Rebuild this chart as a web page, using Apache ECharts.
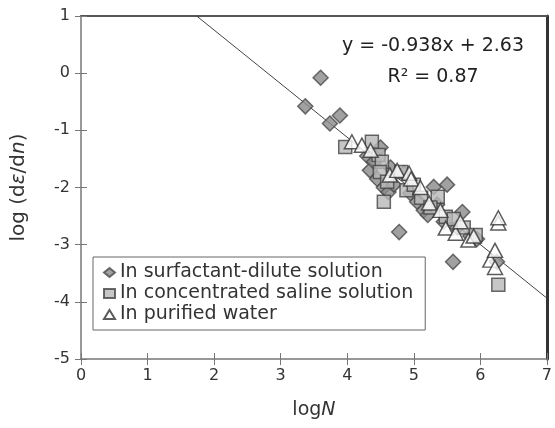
<!DOCTYPE html>
<html><head><meta charset="utf-8">
<script src="https://cdn.jsdelivr.net/npm/echarts@6/dist/echarts.min.js"></script>
<style>html,body{margin:0;padding:0;background:#fff}#c{width:555px;height:428px}</style>
</head><body><div id="c"></div>
<script>
const xTicks = [0,1,2,3,4,5,6,7];
const yTicks = [-5,-4,-3,-2,-1,0,1];
const surfactant = [[3.37,-0.58],[3.6,-0.08],[3.74,-0.88],[3.89,-0.74],[4.3,-1.45],[4.34,-1.7],[4.4,-1.55],[4.45,-1.85],[4.5,-1.3],[4.55,-2.0],[4.62,-2.08],[4.65,-1.65],[4.7,-1.95],[4.78,-2.78],[4.85,-1.75],[4.95,-2.1],[5.05,-2.25],[5.15,-2.4],[5.21,-2.48],[5.3,-1.99],[5.35,-2.3],[5.5,-1.95],[5.45,-2.6],[5.59,-3.3],[5.65,-2.7],[5.73,-2.43],[5.85,-2.85],[5.95,-2.9],[6.25,-3.3]];
const saline = [[3.97,-1.29],[4.37,-1.2],[4.47,-1.43],[4.52,-1.55],[4.49,-1.73],[4.6,-1.9],[4.81,-1.73],[4.89,-2.05],[5.0,-1.95],[5.11,-2.18],[5.36,-2.16],[5.48,-2.51],[5.6,-2.55],[5.75,-2.7],[5.93,-2.83],[6.27,-3.7],[4.55,-2.25],[5.25,-2.35]];
const purified = [[4.07,-1.2],[4.22,-1.26],[4.35,-1.35],[4.64,-1.78],[4.75,-1.7],[4.93,-1.75],[4.96,-1.85],[5.1,-2.0],[5.23,-2.27],[5.4,-2.4],[5.48,-2.71],[5.63,-2.8],[5.7,-2.6],[5.82,-2.92],[5.9,-2.85],[6.27,-2.62],[6.27,-2.53],[6.15,-3.27],[6.22,-3.4],[6.22,-3.1]];
const seriesNames = ['In surfactant-dilute solution','In concentrated saline solution','In purified water'];
const fitCoef = [-0.938, 2.63];
const fitRange = [(1 - 2.63) / -0.938, 7];
const eqText = ['y = -0.938x + 2.63', 'R² = 0.87'];

const fitLine = fitRange.map(x => [x, fitCoef[0]*x + fitCoef[1]]);
const font = 'DejaVu Sans, sans-serif';
const tc = '#333';
const chart = echarts.init(document.getElementById('c'));
const xc = {type:'value', min:0, max:7, interval:1, splitLine:{show:false}};
const yc = {type:'value', min:-5, max:1, interval:1, splitLine:{show:false}};
const rich = {a:{fontSize:19,fontFamily:font,color:tc}, b:{fontSize:19,fontFamily:font,color:tc,fontStyle:'italic'}};
chart.setOption({
  animation:false,
  grid:{left:81, right:3, top:16, bottom:69},
  xAxis:[
    {...xc, position:'bottom', axisLine:{onZero:false,lineStyle:{color:'#777',width:1.5}}, axisTick:{length:6,lineStyle:{color:'#777'}}, axisLabel:{color:tc,fontSize:16,fontFamily:font,margin:9},
     name:'{a|log}{b|N}', nameLocation:'middle', nameGap:42, nameTextStyle:{rich}},
    {...xc, position:'bottom', axisLine:{show:false,onZero:false}, axisTick:{inside:true,length:6,lineStyle:{color:'#777'}}, axisLabel:{show:false}},
    {...xc, position:'top', axisLine:{onZero:false,lineStyle:{color:'#555',width:2}}, axisTick:{show:false}, axisLabel:{show:false}}
  ],
  yAxis:[
    {...yc, position:'left', axisLine:{show:true,onZero:false,lineStyle:{color:'#777',width:1.5}}, axisTick:{show:true,length:6,lineStyle:{color:'#777'}}, axisLabel:{color:tc,fontSize:16,fontFamily:font,margin:11},
     name:'{a|log (d}{b|ε}{a|/d}{b|n}{a|)}', nameLocation:'middle', nameGap:52, nameRotate:90, nameTextStyle:{rich:{a:{fontSize:20,fontFamily:font,color:tc},b:{fontSize:20,fontFamily:font,color:tc,fontStyle:'italic'}}}},
    {...yc, position:'left', axisLine:{show:false,onZero:false}, axisTick:{show:true,inside:true,length:6,lineStyle:{color:'#777'}}, axisLabel:{show:false}},
    {...yc, position:'right', axisLine:{show:true,onZero:false,lineStyle:{color:'#333',width:3}}, axisTick:{show:false}, axisLabel:{show:false}}
  ],
  legend:{
    orient:'vertical', left:93, top:257, itemGap:2, itemWidth:11, itemHeight:9,
    padding:[6,12,6,10], borderColor:'#666', borderWidth:1, backgroundColor:'#fff',
    textStyle:{fontSize:19,fontFamily:font,color:tc},
    data:seriesNames
  },
  graphic:[
    {type:'text', x:433, y:46, style:{text:eqText[0], font:'19px '+font, fill:'#222', textAlign:'center', textVerticalAlign:'middle'}},
    {type:'text', x:433, y:77, style:{text:eqText[1], font:'19px '+font, fill:'#222', textAlign:'center', textVerticalAlign:'middle'}}
  ],
  series:[
    {type:'line', data:fitLine, showSymbol:false, symbol:'none', lineStyle:{color:'#444',width:1}, z:1, silent:true},
    {name:seriesNames[0], type:'scatter', data:surfactant, symbol:'diamond', symbolSize:[15,15], itemStyle:{color:'#8a8a8a',borderColor:'#4a4a4a',borderWidth:1.5}, z:3},
    {name:seriesNames[1], type:'scatter', data:saline, symbol:'rect', symbolSize:[13,13], itemStyle:{color:'#b8b8b8',borderColor:'#444',borderWidth:1.5}, z:4},
    {name:seriesNames[2], type:'scatter', data:purified, symbol:'triangle', symbolSize:[15,14], itemStyle:{color:'#fff',borderColor:'#333',borderWidth:1.5}, z:5}
  ]
});
</script></body></html>
